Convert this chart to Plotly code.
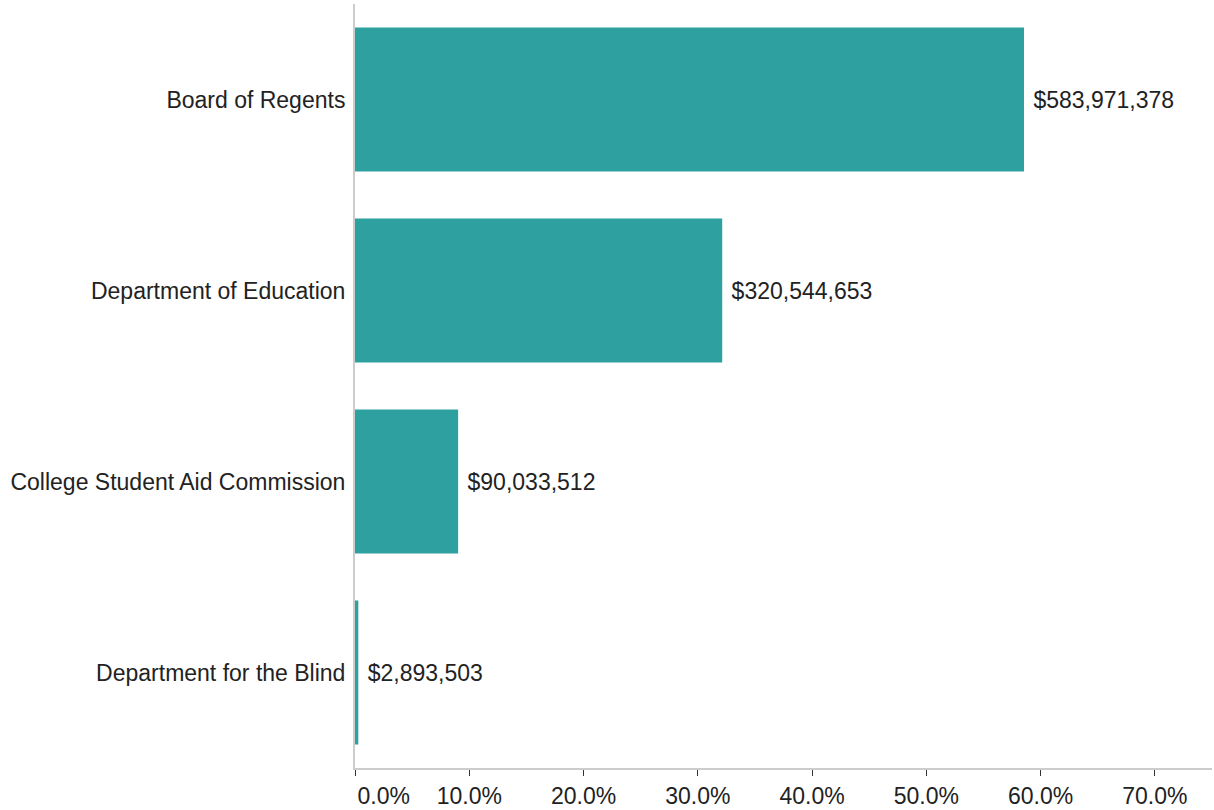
import plotly.graph_objects as go

categories = ["Board of Regents", "Department of Education",
              "College Student Aid Commission", "Department for the Blind"]
amounts = [583971378, 320544653, 90033512, 2893503]
tick_values = [0.0, 0.1, 0.2, 0.3, 0.4, 0.5, 0.6, 0.7]
tick_labels = ["0.0%", "10.0%", "20.0%", "30.0%", "40.0%", "50.0%", "60.0%", "70.0%"]

total = sum(amounts)
shares = [a / total for a in amounts]
labels = ["$" + format(a, ",") for a in amounts]

FONT = "Liberation Sans, Arial, sans-serif"
FS = 23

# first label nudged right (as in the reference, where it does not overhang the axis)
tick_text = list(tick_labels)
tick_text[0] = "\u00a0" * 9 + tick_text[0]

fig = go.Figure(go.Bar(
    y=categories,
    x=shares,
    orientation="h",
    marker=dict(color="#2ea0a0", line=dict(width=0)),
    text=["\u00a0" + t for t in labels],
    textposition="outside",
    textfont=dict(family=FONT, size=FS, color="#222222"),
    cliponaxis=False,
    hoverinfo="skip",
))

fig.update_layout(
    width=1214, height=810,
    margin=dict(l=355, r=2, t=4, b=42),
    paper_bgcolor="white", plot_bgcolor="white",
    bargap=0.246,
    showlegend=False,
    font=dict(family=FONT, size=FS, color="#222222"),
)
fig.update_yaxes(
    categoryorder="array", categoryarray=categories, autorange="reversed",
    showline=True, linecolor="#cccccc", linewidth=2,
    showgrid=False, zeroline=False, ticks="", ticklabelstandoff=3,
    tickfont=dict(size=FS, color="#222222"), automargin=False,
)
fig.update_xaxes(
    range=[0, 0.75],
    tickvals=tick_values, ticktext=tick_text,
    showline=True, linecolor="#cccccc", linewidth=2,
    showgrid=False, zeroline=False,
    ticks="outside", ticklen=6, tickwidth=1, tickcolor="#333333",
    tickfont=dict(size=FS, color="#222222"), automargin=False,
)

fig.write_html("out.html", config={"displayModeBar": False},
               post_script="document.body.style.margin='0';")
